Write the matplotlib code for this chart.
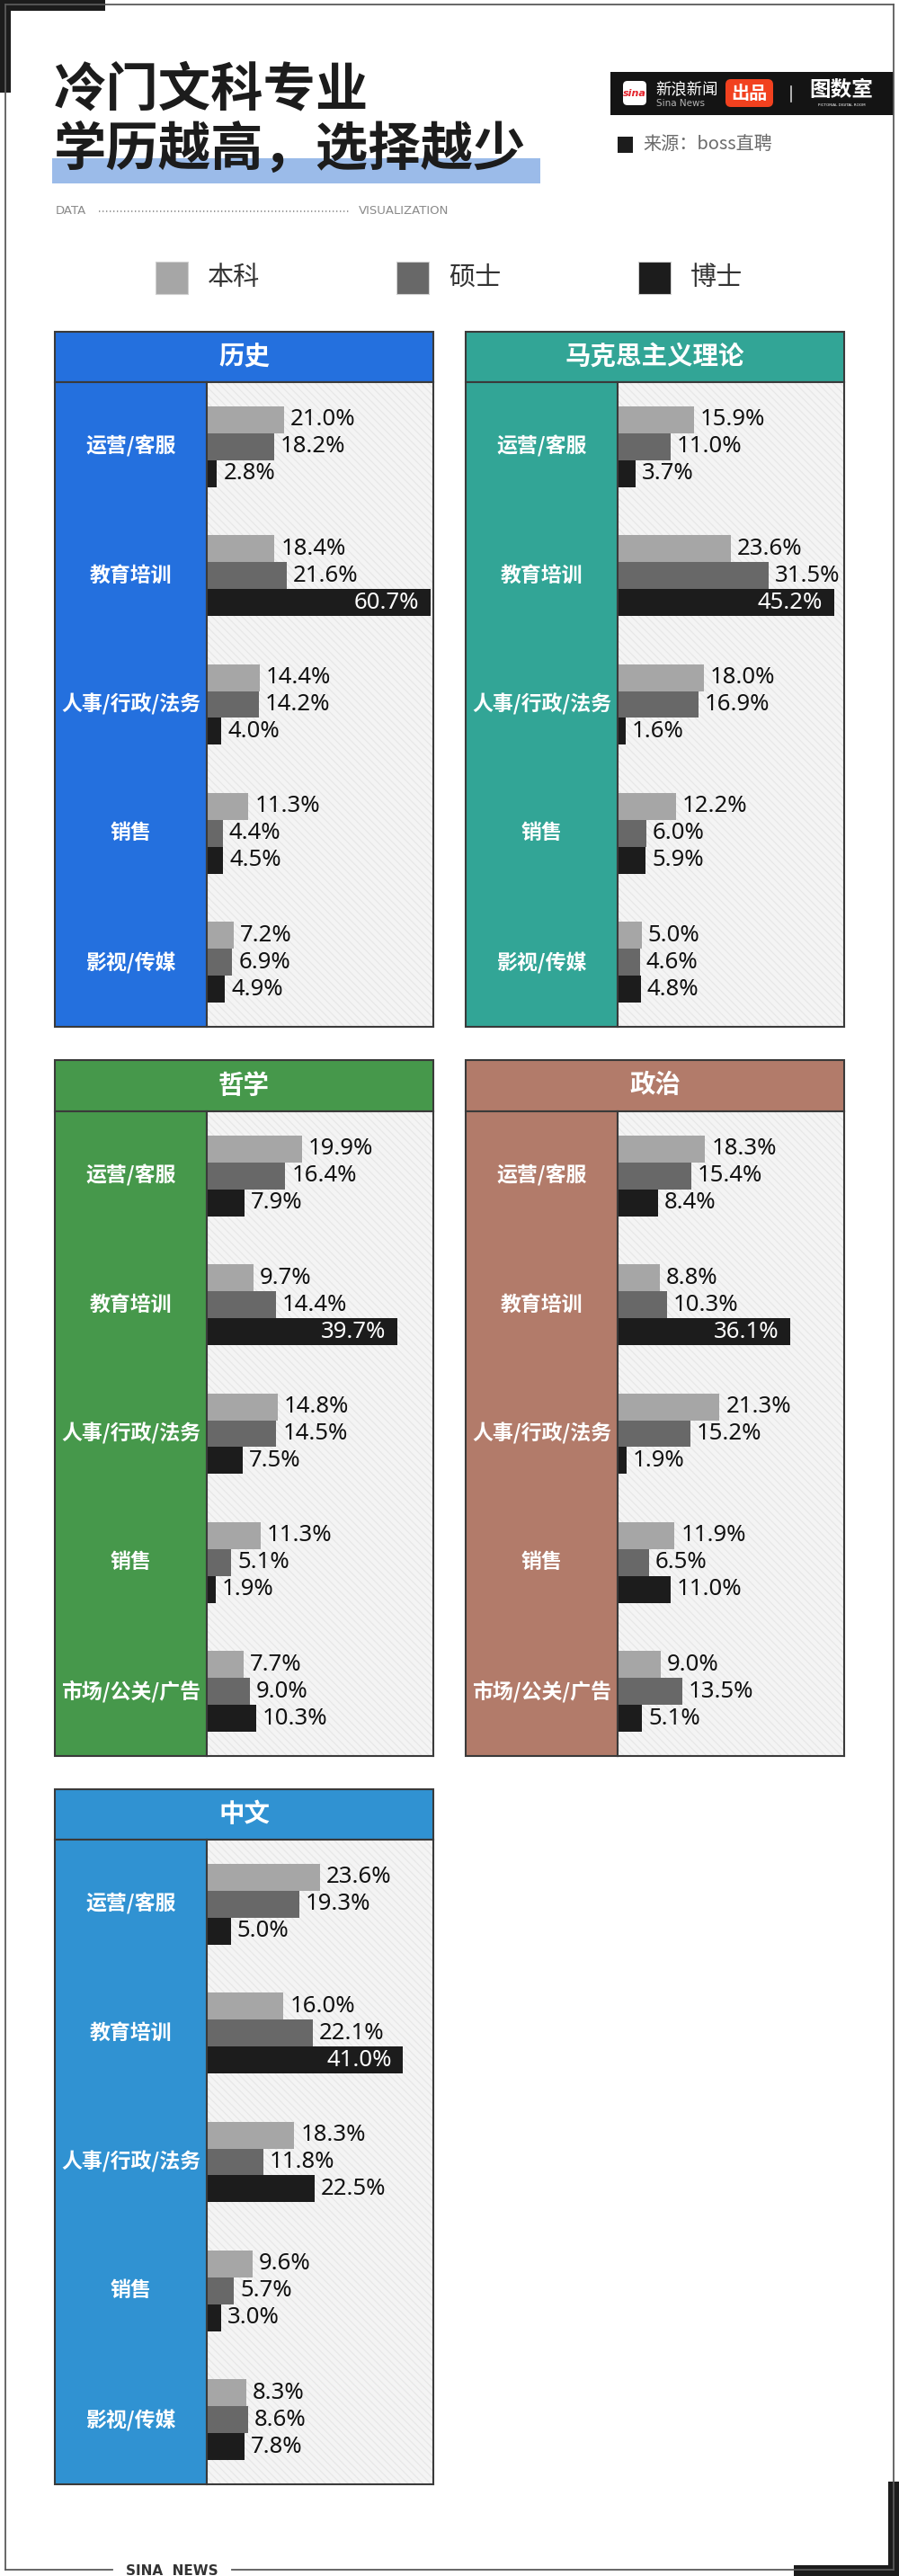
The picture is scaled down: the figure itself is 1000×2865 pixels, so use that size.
import matplotlib
matplotlib.use("Agg")
import matplotlib.pyplot as plt
from matplotlib.patches import Rectangle, FancyBboxPatch
import numpy as np

plt.rcParams['font.family'] = ['Noto Sans CJK SC', 'DejaVu Sans']
plt.rcParams['hatch.linewidth'] = 0.8

# ---------------- data ----------------
title_line1 = "冷门文科专业"
title_line2 = "学历越高，选择越少"
source_text = "来源：boss直聘"
series_names = ["本科", "硕士", "博士"]

panel_names = ["历史", "马克思主义理论", "哲学", "政治", "中文"]

cats_history = ["运营/客服", "教育培训", "人事/行政/法务", "销售", "影视/传媒"]
history_bachelor = [21.0, 18.4, 14.4, 11.3, 7.2]
history_master = [18.2, 21.6, 14.2, 4.4, 6.9]
history_phd = [2.8, 60.7, 4.0, 4.5, 4.9]

cats_marx = ["运营/客服", "教育培训", "人事/行政/法务", "销售", "影视/传媒"]
marx_bachelor = [15.9, 23.6, 18.0, 12.2, 5.0]
marx_master = [11.0, 31.5, 16.9, 6.0, 4.6]
marx_phd = [3.7, 45.2, 1.6, 5.9, 4.8]

cats_philosophy = ["运营/客服", "教育培训", "人事/行政/法务", "销售", "市场/公关/广告"]
philosophy_bachelor = [19.9, 9.7, 14.8, 11.3, 7.7]
philosophy_master = [16.4, 14.4, 14.5, 5.1, 9.0]
philosophy_phd = [7.9, 39.7, 7.5, 1.9, 10.3]

cats_politics = ["运营/客服", "教育培训", "人事/行政/法务", "销售", "市场/公关/广告"]
politics_bachelor = [18.3, 8.8, 21.3, 11.9, 9.0]
politics_master = [15.4, 10.3, 15.2, 6.5, 13.5]
politics_phd = [8.4, 36.1, 1.9, 11.0, 5.1]

cats_chinese = ["运营/客服", "教育培训", "人事/行政/法务", "销售", "影视/传媒"]
chinese_bachelor = [23.6, 16.0, 18.3, 9.6, 8.3]
chinese_master = [19.3, 22.1, 11.8, 5.7, 8.6]
chinese_phd = [5.0, 41.0, 22.5, 3.0, 7.8]

# ---------------- style ----------------
W, H = 1000, 2865
series_colors = ["#a6a6a6", "#686868", "#1c1c1c"]
panel_colors = ["#2470de", "#32a596", "#46984b", "#b27b6a", "#3092d2"]
edge_col = "#3a3a3a"

fig = plt.figure(figsize=(W / 100, H / 100), dpi=100)
bg = fig.add_axes([0, 0, 1, 1], zorder=0)
bg.set_xlim(0, W)
bg.set_ylim(H, 0)
bg.axis("off")

# frame
fc = "#5a5a5a"
bg.plot([6, 6], [5, 2858], color=fc, lw=1.3)
bg.plot([6, 994], [5, 5], color=fc, lw=1.3)
bg.plot([994, 994], [5, 2858], color=fc, lw=1.3)
bg.plot([6, 125], [2858, 2858], color=fc, lw=1.3)
bg.plot([258, 994], [2858, 2858], color=fc, lw=1.3)
for (x, y, w, h) in [(0, 0, 117, 12), (0, 0, 12, 103), (883, 2853, 117, 12), (988, 2760, 12, 105)]:
    bg.add_patch(Rectangle((x, y), w, h, facecolor="#1c1c1c", lw=0))
bg.text(191, 2852, "SINA  NEWS", ha="center", va="top", fontsize=11, fontweight="bold",
        color="#333333", family=["DejaVu Sans"])

# title
bg.add_patch(Rectangle((58, 176), 543, 28, facecolor="#9bbbe9", lw=0, zorder=1))
bg.text(60, 100, title_line1, ha="left", va="center", fontsize=42, fontweight="heavy",
        color="#1c1c1c", zorder=2)
bg.text(60, 168, title_line2, ha="left", va="center", fontsize=42, fontweight="heavy",
        color="#1c1c1c", zorder=2)
bg.text(62, 235, "DATA", ha="left", va="center", fontsize=9.5, color="#8a8a8a",
        family=["DejaVu Sans"])
bg.plot([110, 388], [235, 235], color="#8a8a8a", lw=1.2, ls=(0, (0.8, 1.6)))
bg.text(399, 235, "VISUALIZATION", ha="left", va="center", fontsize=9.5, color="#8a8a8a",
        family=["DejaVu Sans"])

# brand box
bg.add_patch(Rectangle((679, 80), 315, 48, facecolor="#141414", lw=0))
bg.add_patch(FancyBboxPatch((693, 90), 26, 27, boxstyle="round,pad=0,rounding_size=5",
                            facecolor="white", lw=0))
bg.text(706, 104, "sina", ha="center", va="center", fontsize=8, fontweight="bold",
        fontstyle="italic", color="#e4222b", family=["DejaVu Sans"])
bg.text(729, 99, "新浪新闻", ha="left", va="center", fontsize=12.5, color="white")
bg.text(730, 115, "Sina News", ha="left", va="center", fontsize=7.5, color="#b5b5b5",
        family=["DejaVu Sans"])
bg.add_patch(FancyBboxPatch((807, 88), 53, 31, boxstyle="round,pad=0,rounding_size=6",
                            facecolor="#f2411f", lw=0))
bg.text(833.5, 103.5, "出品", ha="center", va="center", fontsize=14.5, fontweight="bold",
        color="white")
bg.plot([880, 880], [96, 113], color="#cfcfcf", lw=1.2)
bg.text(936, 100, "图数室", ha="center", va="center", fontsize=17, fontweight="heavy",
        fontstyle="italic", color="white")
bg.text(936, 117, "PICTORIAL DIGITAL ROOM", ha="center", va="center", fontsize=3,
        color="white", family=["DejaVu Sans"])

# source
bg.add_patch(Rectangle((687, 152), 17, 18, facecolor="#1c1c1c", lw=0))
bg.text(715, 161, source_text, ha="left", va="center", fontsize=14.5, color="#6a6a6a",
        fontweight="light")

# legend
leg_x = [173, 441, 710]
for name, col, lx in zip(series_names, series_colors, leg_x):
    bg.add_patch(Rectangle((lx, 291), 36, 36, facecolor=col, edgecolor="#d0d0d0", lw=0.8))
    bg.text(lx + 58, 309, name, ha="left", va="center", fontsize=21, color="#333333",
            fontweight="light")

# ---------------- panels ----------------
panel_cats = [cats_history, cats_marx, cats_philosophy, cats_politics, cats_chinese]
panel_vals = [
    [history_bachelor, history_master, history_phd],
    [marx_bachelor, marx_master, marx_phd],
    [philosophy_bachelor, philosophy_master, philosophy_phd],
    [politics_bachelor, politics_master, politics_phd],
    [chinese_bachelor, chinese_master, chinese_phd],
]
col_x = [(61, 230, 482), (518, 687, 939)]
row_y = [(369, 425, 1142), (1179, 1236, 1953), (1990, 2046, 2763)]

bar_h = 0.209
for p, (pname, cats, vals, pcol) in enumerate(zip(panel_names, panel_cats, panel_vals, panel_colors)):
    x_left, x_mid, x_right = col_x[p % 2]
    y_top, y_head, y_bot = row_y[p // 2]
    # header
    bg.add_patch(Rectangle((x_left, y_top), x_right - x_left, y_head - y_top,
                           facecolor=pcol, edgecolor=edge_col, lw=1.5, zorder=2))
    bg.text((x_left + x_right) / 2, (y_top + y_head) / 2, pname, ha="center", va="center",
            fontsize=20.5, fontweight="bold", color="white", zorder=3)
    # label column
    bg.add_patch(Rectangle((x_left, y_head), x_mid - x_left, y_bot - y_head,
                           facecolor=pcol, edgecolor=edge_col, lw=1.5, zorder=2))
    # bar axes
    ax = fig.add_axes([x_mid / W, 1 - y_bot / H, (x_right - x_mid) / W, (y_bot - y_head) / H],
                      zorder=1)
    ax.add_patch(Rectangle((0, 0), 1, 1, transform=ax.transAxes, facecolor="#f4f4f4",
                           edgecolor="#e6e6e6", hatch="\\\\\\\\", lw=0, zorder=0))
    n = len(cats)
    ypos = np.arange(n)
    vmax = max(max(v) for v in vals)
    xmax = max(47.3, vmax * 1.013)
    for j, (series, scol) in enumerate(zip(vals, series_colors)):
        yy = ypos + (j - 1) * bar_h
        ax.barh(yy, series, height=bar_h, color=scol, lw=0, zorder=2)
        for yv, v in zip(yy, series):
            if v == vmax:
                ax.annotate(f"{v:.1f}%", (v, yv), xytext=(-9, 0), textcoords="offset points",
                            ha="right", va="center", fontsize=18.5, color="white",
                            family=["Noto Sans"], zorder=3)
            else:
                ax.annotate(f"{v:.1f}%", (v, yv), xytext=(5, 0), textcoords="offset points",
                            ha="left", va="center", fontsize=18.5, color="#111111",
                            family=["Noto Sans"], zorder=3)
    ax.set_xlim(0, xmax)
    ax.set_ylim(n - 0.5, -0.5)
    ax.set_xticks([])
    ax.set_yticks([])
    for s in ax.spines.values():
        s.set_color(edge_col)
        s.set_linewidth(1.5)
    # category labels
    seg = (y_bot - y_head) / n
    for i, c in enumerate(cats):
        bg.text((x_left + x_mid) / 2, y_head + (i + 0.5) * seg, c, ha="center", va="center",
                fontsize=16.5, fontweight="bold", color="white", zorder=3)

fig.savefig("out.png", dpi=100)
